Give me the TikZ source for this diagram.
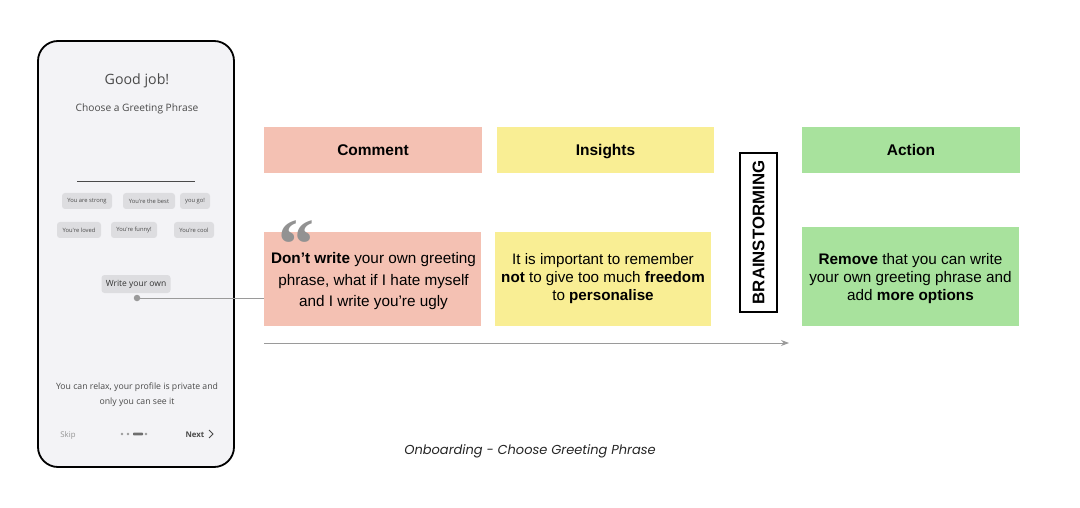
\documentclass[tikz,border=0pt]{standalone}
\usepackage{fontspec}
\setmainfont{Liberation Sans}
\newfontfamily\phonefont{Open Sans}
\newfontfamily\capfont{Poppins}
\newfontfamily\quotefont{Liberation Serif}
\usetikzlibrary{arrows.meta}
\definecolor{salmon}{HTML}{F4C1B3}
\definecolor{ylw}{HTML}{F9EE94}
\definecolor{grn}{HTML}{A8E29D}
\definecolor{phonebg}{HTML}{F3F3F6}
\definecolor{chipbg}{HTML}{DDDDE0}
\definecolor{ptext}{HTML}{4A4A4A}
\definecolor{linegray}{HTML}{9A9A9A}
\tikzset{
  hdr/.style={font=\fontsize{15.5}{18}\selectfont\bfseries, text=black, text height=11.2pt, text depth=0pt},
  chip/.style={fill=chipbg, rounded corners=3pt, inner sep=0pt, font=\phonefont\fontsize{5.8}{7}\selectfont, text=ptext},
  ptxt/.style={font=\phonefont\fontsize{8.7}{15}\selectfont, text=ptext, align=center},
}
\begin{document}
\begin{tikzpicture}[x=1pt,y=-1pt]
\useasboundingbox[fill=white] (0,0) rectangle (1080,508);
% phone
\draw[line width=1.8pt, fill=phonebg, rounded corners=20pt] (38,41) rectangle (234,467);
\node[font=\phonefont\fontsize{14.2}{16}\selectfont, text=ptext] (good) at (137,81) {Good job!};
\node[font=\phonefont\fontsize{10.2}{12}\selectfont, text=ptext] (choose) at (137,109) {Choose a Greeting Phrase};
\coordinate (ul) at (77,181);
\coordinate (ur) at (195,181);
\draw[ptext, line width=0.8pt] (ul) -- (ur);
\node[chip, minimum width=50pt, minimum height=16pt] (c1) at (87,201) {You are strong};
\node[chip, minimum width=52pt, minimum height=16pt] (c2) at (149,201) {You're the best};
\node[chip, minimum width=30pt, minimum height=16pt] (c3) at (195,201) {you go!};
\node[chip, minimum width=44pt, minimum height=16pt] (c4) at (79,230) {You're loved};
\node[chip, minimum width=46pt, minimum height=16pt] (c5) at (134,230) {You're funny!};
\node[chip, minimum width=40pt, minimum height=16pt] (c6) at (194,230) {You're cool};
\node[chip, minimum width=69pt, minimum height=18pt, font=\phonefont\fontsize{8.5}{10}\selectfont, text=black!80] (own) at (136,284) {Write your own};
\node[circle, fill=linegray, inner sep=0pt, minimum size=6.5pt] (dot) at (137,298) {};
\node[ptxt] (relax) at (137,394.5) {You can relax, your profile is private and\\only you can see it};
\node[font=\phonefont\fontsize{7.8}{9}\selectfont, text=ptext!60] (skip) at (68,435) {Skip};
\node[font=\phonefont\fontsize{7.8}{9}\selectfont\bfseries, text=ptext] (next) at (195,435) {Next};
\draw[ptext, line width=0.9pt] (209,430) -- (213,434) -- (209,438);
\fill[linegray] (122,434) circle (1.3pt) (128,434) circle (1.3pt) (146,434) circle (1.3pt);
\fill[ptext!80, rounded corners=0.8pt] (133,432.6) rectangle (143,435.4);
% headers
\node[hdr, fill=salmon, minimum width=218pt, minimum height=46pt, inner sep=0pt] (comment) at (373,150) {Comment};
\node[hdr, fill=ylw, minimum width=217pt, minimum height=46pt, inner sep=0pt] (insights) at (605.5,150) {Insights};
\node[hdr, fill=grn, minimum width=218pt, minimum height=46pt, inner sep=0pt] (action) at (911,150) {Action};
% bodies
\node[fill=salmon, minimum width=217pt, minimum height=94pt, inner sep=0pt] (cbody) at (372.5,279) {};
\node[font=\fontsize{15.3}{21.5}\selectfont, align=center] (ctext) at (373.5,281.5) {\textbf{Don’t write} your own greeting\\phrase, what if I hate myself\\and I write you’re ugly};
\node[font=\quotefont\fontsize{72}{72}\selectfont\bfseries, text=linegray!95!black, inner sep=0pt, anchor=north] (quote) at (296,220) {“};
\node[fill=ylw, minimum width=216pt, minimum height=94pt, inner sep=0pt] (ibody) at (603,279) {};
\node[font=\fontsize{15.2}{18}\selectfont, align=center] (itext) at (603,279) {It is important to remember\\\textbf{not} to give too much \textbf{freedom}\\to \textbf{personalise}};
\node[fill=grn, minimum width=217pt, minimum height=99pt, inner sep=0pt] (abody) at (910.5,276.5) {};
\node[font=\fontsize{15.3}{18}\selectfont, align=center] (atext) at (910.5,279) {\textbf{Remove} that you can write\\your own greeting phrase and\\add \textbf{more options}};
% brainstorming
\node[draw=black, line width=1.2pt, fill=white, minimum width=37pt, minimum height=159pt, inner sep=0pt] (brain) at (758.5,232.5) {};
\node[rotate=90, font=\fontsize{16.8}{18}\selectfont\bfseries] (btext) at (758.5,232.5) {BRAINSTORMING};
% connectors
\draw[linegray, line width=1pt] (dot.center) -- (cbody.west |- dot.center);
\coordinate (as) at (264,343);
\coordinate (ae) at (789,343);
\draw[linegray, line width=1pt, -{Stealth[length=8pt,width=6pt]}] (as) -- (ae);
% caption
\node[font=\capfont\itshape\fontsize{13}{15}\selectfont, text=black!85] (cap) at (530,451) {Onboarding - Choose Greeting Phrase};
\end{tikzpicture}
\end{document}
